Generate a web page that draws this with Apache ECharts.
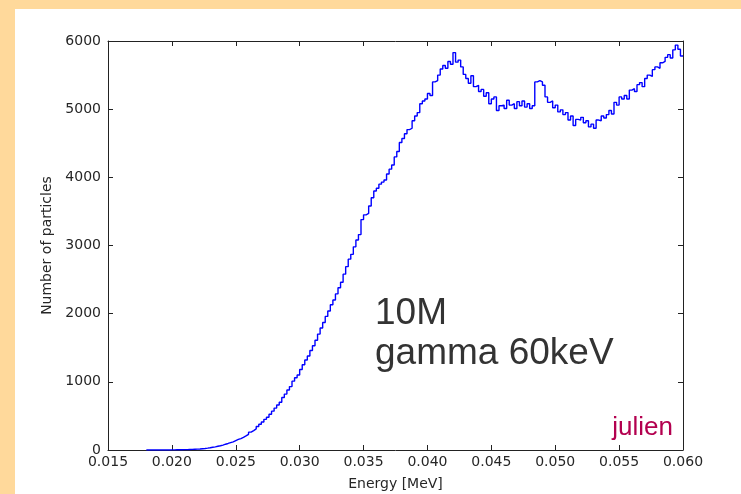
<!DOCTYPE html>
<html>
<head>
<meta charset="utf-8">
<script src="https://cdn.jsdelivr.net/npm/echarts@6/dist/echarts.min.js"></script>
<style>
  html, body { margin: 0; padding: 0; background: #fff; }
  #chart { width: 741px; height: 494px; }
</style>
</head>
<body>
<div id="chart"></div>
<script>
// histogram bins (MeV)
const binStart = 0.018;
const binWidth = 0.0002;
const counts = [
  0, 0, 0, 0, 0, 0, 1, 0, 1, 2, 2, 3,
  3, 4, 5, 6, 8, 9, 11, 13,
  15, 19, 22, 27, 33,
  40, 46, 55, 62, 72,
  85, 96, 108, 120, 138,
  155, 168, 185, 206, 230,
  262, 285, 310, 345, 378,
  410, 450, 480, 525, 570,
  615, 660, 700, 770, 820,
  880, 930, 1010, 1060, 1100,
  1180, 1250, 1320, 1380, 1460,
  1530, 1610, 1700, 1790, 1870,
  1960, 2040, 2130, 2200, 2290,
  2380, 2460, 2580, 2690, 2800,
  2870, 2980, 3080, 3160, 3380,
  3450, 3470, 3580, 3700, 3800,
  3840, 3900, 3930, 3960, 4050,
  4120, 4180, 4300, 4380, 4510,
  4570, 4640, 4700, 4720, 4830,
  4900, 4950, 5080, 5120, 5150,
  5230, 5200, 5400, 5420, 5500,
  5590, 5640, 5600, 5700, 5660,
  5830, 5690, 5720, 5620, 5510,
  5450, 5380, 5490, 5330, 5350,
  5260, 5290, 5190, 5240, 5080,
  5150, 5180, 4980, 5050, 5060,
  5010, 5130, 5060, 5080, 5010,
  5110, 5050, 5120, 5030, 5080,
  5010, 5050, 5400, 5420, 5400,
  5350, 5180, 5100, 5120, 5020,
  5060, 4960, 4990, 4920, 4950,
  4840, 4900, 4760, 4850, 4840,
  4880, 4800, 4830, 4740, 4780,
  4720, 4840, 4830, 4900, 4870,
  4920, 4980, 4930, 5100, 5060,
  5180, 5150, 5200, 5150, 5280,
  5300, 5260, 5360, 5390, 5330,
  5450, 5500, 5480, 5580, 5620,
  5600, 5680, 5700, 5760, 5800,
  5750, 5870, 5940, 5880, 5780
];

const xMin = 0.015, xMax = 0.060, xStep = 0.005;
const yMin = 0, yMax = 6000, yStep = 1000;

// step line points at left bin edges, plus the closing right edge
const points = counts.map((c, i) => [+(binStart + i * binWidth).toFixed(4), c]);
points.push([+(binStart + counts.length * binWidth).toFixed(4), counts[counts.length - 1]]);

const frameColor = '#222';
const labelFont = { fontFamily: 'DejaVu Sans', fontSize: 14, color: '#262626' };

function xAx(pos, showLabels) {
  return {
    type: 'value', position: pos, min: xMin, max: xMax, interval: xStep,
    axisLine: { show: true, onZero: false, lineStyle: { color: frameColor, width: 1 } },
    axisTick: { show: true, inside: true, length: 5, lineStyle: { color: frameColor } },
    axisLabel: Object.assign({ show: showLabels, margin: 5, formatter: v => v.toFixed(3) }, labelFont),
    splitLine: { show: false }
  };
}
function yAx(pos, showLabels) {
  return {
    type: 'value', position: pos, min: yMin, max: yMax, interval: yStep,
    axisLine: { show: true, onZero: false, lineStyle: { color: frameColor, width: 1 } },
    axisTick: { show: true, inside: true, length: 5, lineStyle: { color: frameColor } },
    axisLabel: Object.assign({ show: showLabels, margin: 7, formatter: v => String(v) }, labelFont),
    splitLine: { show: false }
  };
}

const chart = echarts.init(document.getElementById('chart'));
const xBottom = xAx('bottom', true);
xBottom.name = 'Energy [MeV]';
xBottom.nameLocation = 'middle';
xBottom.nameGap = 27;
xBottom.nameTextStyle = { fontFamily: 'DejaVu Sans', fontSize: 14, color: '#262626' };
const yLeft = yAx('left', true);
yLeft.name = 'Number of particles';
yLeft.nameLocation = 'middle';
yLeft.nameGap = 54;
yLeft.nameTextStyle = { fontFamily: 'DejaVu Sans', fontSize: 14, color: '#262626' };

chart.setOption({
  animation: false,
  backgroundColor: '#fff',
  grid: { left: 108, right: 58, top: 41, bottom: 44, containLabel: false, outerBoundsMode: 'none' },
  xAxis: [xBottom, xAx('top', false)],
  yAxis: [yLeft, yAx('right', false)],
  graphic: [
    { type: 'rect', left: 0, top: 0, shape: { width: 741, height: 9 }, style: { fill: '#FFD99B' }, z: -10 },
    { type: 'rect', left: 0, top: 0, shape: { width: 15, height: 494 }, style: { fill: '#FFD99B' }, z: -10 },
    { type: 'text', x: 375, y: 314, style: { text: '10M', font: '37px "Liberation Sans"', fill: '#333', textVerticalAlign: 'middle' } },
    { type: 'text', x: 375, y: 354, style: { text: 'gamma 60keV', font: '37px "Liberation Sans"', fill: '#333', textVerticalAlign: 'middle' } },
    { type: 'text', x: 673, y: 428, style: { text: 'julien', font: '26px "Liberation Sans"', fill: '#B3004F', textAlign: 'right', textVerticalAlign: 'middle' } }
  ],
  series: [{
    type: 'line',
    xAxisIndex: 0,
    yAxisIndex: 0,
    step: 'end',
    showSymbol: false,
    data: points,
    lineStyle: { color: '#0000FF', width: 1.4 }
  }]
});
</script>
</body>
</html>
